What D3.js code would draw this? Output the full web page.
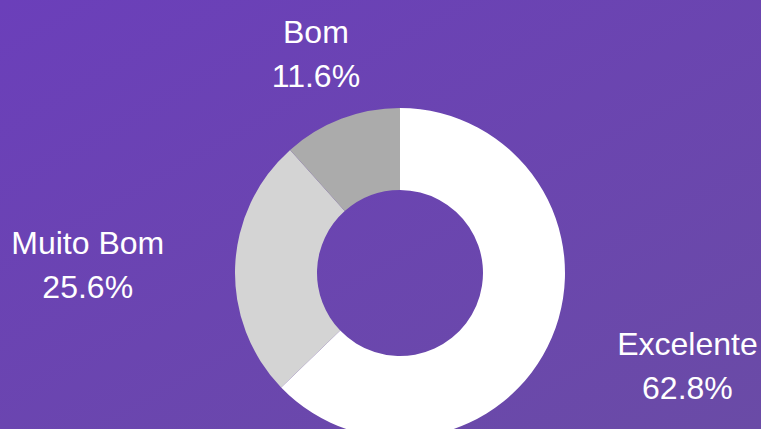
<!DOCTYPE html>
<html lang="en">
<head>
  <meta charset="utf-8">
  <title>Avaliação</title>
  <script src="https://d3js.org/d3.v7.min.js"></script>
  <style>
    html, body { margin: 0; padding: 0; overflow: hidden; }
    .label text { font-family: "Liberation Sans", Arial, sans-serif; font-size: 32px; fill: #fff; }
  </style>
</head>
<body>
<div id="chart"></div>
<script>
const categories = ["Excelente", "Muito Bom", "Bom"];
const values = [62.8, 25.6, 11.6];
const colors = ["#ffffff", "#d4d4d4", "#ababab"];

const width = 761, height = 429;
const cx = 400, cy = 273;
const outer = 165, inner = 83, labelR = 236, lineH = 44;

const svg = d3.select("#chart").append("svg")
    .attr("width", width)
    .attr("height", height);

const grad = svg.append("defs").append("linearGradient")
    .attr("id", "bg")
    .attr("x1", "0%").attr("y1", "0%")
    .attr("x2", "100%").attr("y2", "100%");
grad.append("stop").attr("offset", "0%").attr("stop-color", "#6b3fba");
grad.append("stop").attr("offset", "100%").attr("stop-color", "#6a4ba6");

svg.append("rect")
    .attr("width", width)
    .attr("height", height)
    .attr("fill", "url(#bg)");

const pie = d3.pie().sort(null).value(d => d.value);
const arc = d3.arc().innerRadius(inner).outerRadius(outer);
const data = categories.map((c, i) => ({name: c, value: values[i], color: colors[i]}));
const arcs = pie(data);

const g = svg.append("g").attr("transform", `translate(${cx},${cy})`);

g.selectAll("path")
  .data(arcs)
  .join("path")
    .attr("d", arc)
    .attr("fill", d => d.data.color);

// labels sit outside the ring, their near edge touching a point on labelR
const fmt = d3.format(".1f");
const labels = g.selectAll(".label")
  .data(arcs)
  .join("g")
    .attr("class", "label");

labels.each(function(d) {
  const a = (d.startAngle + d.endAngle) / 2;
  const px = labelR * Math.sin(a), py = -labelR * Math.cos(a);
  const sel = d3.select(this);
  const lines = [d.data.name, fmt(d.data.value) + "%"];
  const t = sel.selectAll("text")
    .data(lines)
    .join("text")
      .attr("text-anchor", "middle")
      .attr("y", (l, i) => py - lineH / 2 + 12 + i * lineH)
      .text(l => l);
  const w = d3.max(t.nodes(), n => n.getComputedTextLength());
  const s = Math.sin(a);
  const x = Math.abs(s) < 0.5 ? px : (s < 0 ? px - w / 2 : px + w / 2);
  t.attr("x", x);
});
</script>
</body>
</html>
